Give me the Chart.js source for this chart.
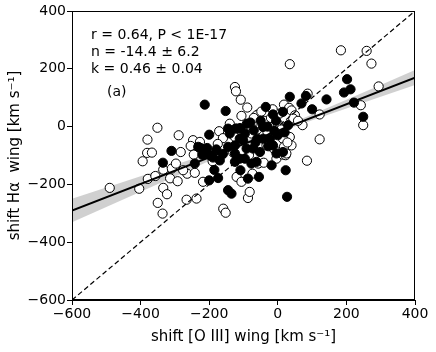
<!DOCTYPE html>
<html>
<head>
<meta charset="utf-8">
<script src="https://cdn.jsdelivr.net/npm/chart.js@4.4.1/dist/chart.umd.min.js"></script>
<style>
  html, body { margin: 0; padding: 0; background: #fff; }
  #wrap { width: 436px; height: 352px; }
</style>
</head>
<body>
<div id="wrap"><canvas id="shiftChart" width="436" height="352"></canvas></div>
<script>
// shift [O III] wing vs shift Ha wing (km/s)
const openX = [-490, -404, -394, -380, -381, -367, -379, -357, -351, -350, -336, -334, -334, -323, -314, -292,
  -309, -297, -289, -283, -266, -237, -264, -242, -276, -247, -254, -227, -245, -218, -171, -159, -152,
  -120, -106, -87, -82, -74, -57, -41, -4, 85, -125, -122, -108, -89, -106, -57, 18, 33, 40, 50, -62,
  122, 35, 40, 15, 23, 35, 184, 259, 273, 294, 242, 249, 122, 72, 87, -77, -120, -125, -9, 45, 59, 15,
  -12, 18, 25, -84, -23, -33,
  -40, -20, 0, 10, -60, -100, -140, -160, -30, 5, -15, -190, -175, 28, -48, -130, -70];
const openY = [-212, -215, -120, -45, -91, -90, -181, -171, -4, -264, -301, -149, -212, -234, -179, -189,
  -145, -128, -30, -88, -253, -249, -163, -160, -151, -47, -67, -53, -97, -191, -16, -284, -298,
  -174, -191, -247, -226, -163, -128, -125, -111, -118, 137, 122, 93, 66, 37, 42, 76, 65, 56, 39, 39,
  -44, -36, -65, -97, -99, 216, 264, 262, 218, 139, 74, 5, 42, 5, 114, -24, -7, -36, 22, 28, 20, -42,
  -76, -70, -93, -99, 5, -65,
  20, 30, 10, -10, -10, -20, 10, -40, -20, 45, 60, -120, -60, -55, 52, -90, 30];

const filledX = [-213, -152, -80, -200, -145, -225, -206, -179, -145, -101, -91, -72, -70, -310, -335, -242,
  -220, -232, -198, -189, -200, -174, -145, -135, -109, -125, -111, -96, -87, -169, -125, -77, -62, -55,
  -18, 23, 27, -52, 15, 35, 69, 100, 142, -35, -14, 15, 202, 212, 193, 222, 249, 82, -123, -96, -125,
  -43, -23, -28, -4, -43, -14, -140, -111, -60,
  -50, -30, -10, 0, 20, -65, -110, -90, -5, 30, -160, -185];
const filledY = [76, 54, 14, -28, -7, -74, -74, -79, -70, -47, -76, -76, -13, -84, -125, -128,
  -97, -70, -99, -107, -186, -178, -220, -232, -151, -122, -111, -111, -180, -117, -93, -128, -122, -174,
  -134, -151, -243, -88, -88, 103, 80, 60, 94, 68, 42, 51, 164, 129, 118, 83, 34, 106, -7, -24, -65,
  -42, -42, -68, -93, -1, -65, -24, -42, -42,
  20, 0, -15, -30, -20, -55, -5, 10, 20, 5, -95, -150];

// fit: y = n + k x
const fitN = -14.4;
const fitK = 0.46;
const lineX = [-600, 400];
// half width of the grey confidence band
const bandX = [-600, -500, -400, -300, -200, -100, 0, 100, 200, 300, 400];
const bandHalf = [41, 34, 27, 20, 13, 8, 7, 10, 15, 20, 26];

const ticks = [-600, -400, -200, 0, 200, 400];
const labelLines = ['r = 0.64, P < 1E-17', 'n = -14.4 \u00b1 6.2', 'k = 0.46 \u00b1 0.04'];
const panelLabel = '(a)';

const toPts = (xs, ys) => xs.map((x, i) => ({ x: x, y: ys[i] }));
const fitY = x => fitN + fitK * x;

const textPlugin = {
    id: 'boxText',
    afterDraw(chart) {
        const c = chart.ctx;
        const a = chart.chartArea;
        c.save();
        c.strokeStyle = '#000';
        c.lineWidth = 1;
        c.strokeRect(a.left + 0.5, a.top + 0.5, a.right - a.left - 1, a.bottom - a.top - 1);
        c.fillStyle = '#000';
        c.font = '14px "DejaVu Sans"';
        c.textBaseline = 'middle';
        labelLines.forEach((t, i) => c.fillText(t, a.left + 19, a.top + 24 + i * 17));
        c.fillText(panelLabel, a.left + 35, a.top + 81);
        c.restore();
    }
};

const minus = v => String(v).replace('-', '\u2212');

new Chart(document.getElementById('shiftChart').getContext('2d'), {
    type: 'scatter',
    data: {
        datasets: [
            {
                data: toPts(bandX, bandX.map((x, i) => fitY(x) + bandHalf[i])),
                showLine: true, borderWidth: 0, pointRadius: 0,
                backgroundColor: 'rgba(200,200,200,0.85)', fill: '+1', order: 6
            },
            {
                data: toPts(bandX, bandX.map((x, i) => fitY(x) - bandHalf[i])),
                showLine: true, borderWidth: 0, pointRadius: 0, order: 6
            },
            {
                data: toPts(openX, openY),
                pointRadius: 4.6, pointBackgroundColor: '#fff', pointBorderColor: '#000',
                pointBorderWidth: 1, order: 4
            },
            {
                data: toPts(filledX, filledY),
                pointRadius: 4.6, pointBackgroundColor: '#000', pointBorderColor: '#000',
                pointBorderWidth: 1, order: 3
            },
            {
                data: toPts(lineX, lineX),
                showLine: true, borderColor: '#000', borderWidth: 1.2, borderDash: [5, 3],
                pointRadius: 0, order: 2
            },
            {
                data: toPts(lineX, lineX.map(fitY)),
                showLine: true, borderColor: '#000', borderWidth: 2, pointRadius: 0, order: 1
            }
        ]
    },
    options: {
        responsive: false,
        animation: false,
        layout: { padding: { top: 11, right: 21, left: 0, bottom: 0 } },
        plugins: {
            legend: { display: false },
            tooltip: { enabled: false }
        },
        scales: {
            x: {
                type: 'linear', min: -600, max: 400,
                afterFit: s => { s.height = 52; },
                afterBuildTicks: s => { s.ticks = ticks.map(v => ({ value: v })); },
                grid: { drawOnChartArea: false, tickLength: 5, color: '#000' },
                border: { color: '#000' },
                ticks: { color: '#000', padding: 1, maxRotation: 0, font: { family: 'DejaVu Sans', size: 14 }, callback: minus },
                title: {
                    display: true, text: 'shift [O III] wing [km s\u207b\u00b9]', color: '#000',
                    font: { family: 'DejaVu Sans', size: 15 }, padding: { top: 0, bottom: 6 }
                }
            },
            y: {
                type: 'linear', min: -600, max: 400,
                afterFit: s => { s.width = 72; },
                afterBuildTicks: s => { s.ticks = ticks.map(v => ({ value: v })); },
                grid: { drawOnChartArea: false, tickLength: 5, color: '#000' },
                border: { color: '#000' },
                ticks: { color: '#000', padding: 1, font: { family: 'DejaVu Sans', size: 14 }, callback: minus },
                title: {
                    display: true, text: 'shift H\u03b1  wing [km s\u207b\u00b9]', color: '#000',
                    font: { family: 'DejaVu Sans', size: 15 }, padding: { top: 6, bottom: 0 }
                }
            }
        }
    },
    plugins: [textPlugin]
});
</script>
</body>
</html>
